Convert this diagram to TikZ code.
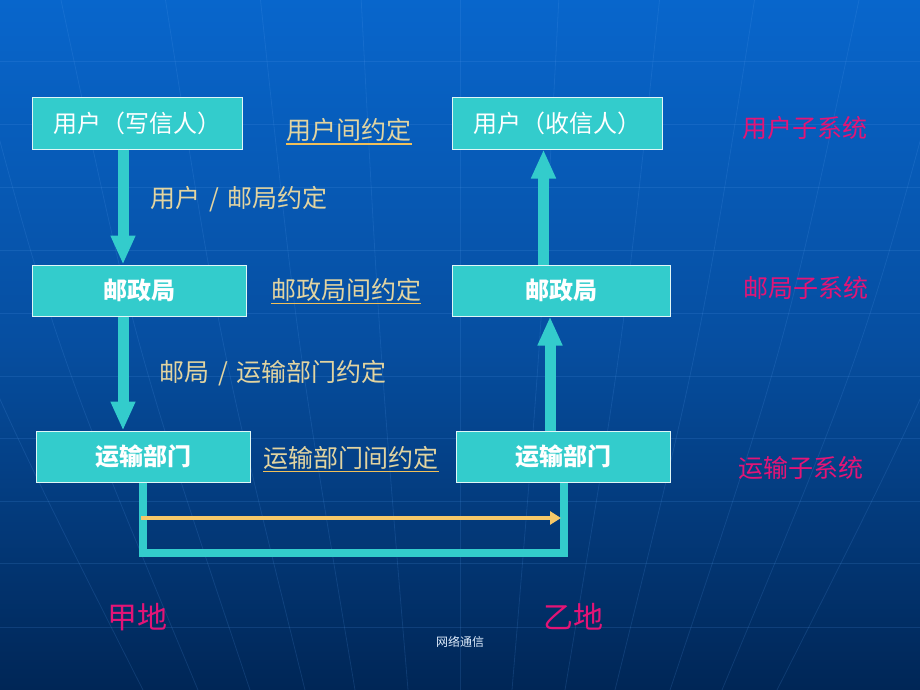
\documentclass[tikz,border=0pt]{standalone}
\usepackage{fontspec}
\setmainfont{Noto Sans CJK SC}
\usetikzlibrary{arrows.meta,calc}
\definecolor{bgtop}{RGB}{8,102,204}
\definecolor{bgmid}{RGB}{6,78,160}
\definecolor{bgbot}{RGB}{0,38,86}
\definecolor{boxteal}{RGB}{51,204,204}
\definecolor{tan}{RGB}{226,212,160}
\definecolor{uline}{RGB}{240,192,90}
\definecolor{mag}{RGB}{228,20,118}
\definecolor{yarrow}{RGB}{246,200,104}
\definecolor{grid}{RGB}{90,160,240}
\tikzset{
  box/.style={draw=white!85!boxteal, line width=1pt, fill=boxteal, text=white,
    minimum height=51pt, inner sep=0pt, font=\fontsize{24}{24}\selectfont},
  boxb/.style={box, font=\fontsize{24}{24}\selectfont\bfseries},
  note/.style={text=tan, inner sep=0pt, font=\fontsize{25}{25}\selectfont},
  sys/.style={text=mag, inner sep=0pt, font=\fontsize{25}{25}\selectfont},
  place/.style={text=mag, inner sep=0pt, font=\fontsize{30}{30}\selectfont},
  blockarrow/.style={draw=boxteal, line width=11pt,
    -{Triangle[width=23pt,length=29pt]}, color=boxteal},
  ulinestyle/.style={draw=uline, line width=1.3pt},
  gridline/.style={draw=grid, line width=0.8pt, opacity=0.16}
}
\begin{document}
\begin{tikzpicture}[x=1pt,y=-1pt]
% background
\shade[top color=bgtop, bottom color=bgbot, middle color=bgmid] (0,0) rectangle (920,690);
\useasboundingbox (0,0) rectangle (920,690);
% globe grid
\foreach \yy in {61,124,187,250,313,376,438,501,563,627}
  \draw[gridline] (0,\yy) -- (920,\yy);
\foreach \d in {-317,-262,-210,-155,-105,-52,0,52,105,155,210,262,317}
  \draw[gridline] ({460+1.9*\d},0) .. controls ({460+1.55*\d},345) .. ({460+\d},690);

% boxes
\node[box, minimum width=210pt] (uw) at (137,123.5) {用户（写信人）};
\node[box, minimum width=210pt] (ur) at (557,123.5) {用户（收信人）};
\node[boxb, minimum width=214pt] (pl) at (139,290.5) {邮政局};
\node[boxb, minimum width=218pt] (pr) at (561,290.5) {邮政局};
\node[boxb, minimum width=214pt] (tl) at (143,456.5) {运输部门};
\node[boxb, minimum width=214pt] (tr) at (563,456.5) {运输部门};

% x positions of connectors
\coordinate (xa) at (123,0);
\coordinate (xb) at (543.5,0);
\coordinate (xc) at (550,0);
\coordinate (xl) at (143,0);
\coordinate (xr) at (563.5,0);
\coordinate (yb) at (0,553);

% block arrows
\draw[blockarrow] (uw.south -| xa) -- (pl.north -| xa);
\draw[blockarrow] (pl.south -| xa) -- (tl.north -| xa);
\draw[blockarrow] (pr.north -| xb) -- (ur.south -| xb);
\draw[blockarrow] (tr.north -| xc) -- (pr.south -| xc);

% transport loop
\draw[boxteal, line width=8pt, line join=miter]
  (tl.south -| xl) -- (xl |- yb) -- (xr |- yb) -- (tr.south -| xr);
\coordinate (ys) at (141,518);
\coordinate (ye) at (561,518);
\draw[yarrow, line width=3.2pt, -{Triangle[width=13pt,length=11pt]}] (ys) -- (ye);

% notes
\node[note] (n1) at (349,130) {用户间约定};
\draw[ulinestyle] ($(n1.south west)+(0,2)$) -- ($(n1.south east)+(0,2)$);
\node[note] (n2) at (239,199) {用户\hspace{9pt}/\hspace{9pt}邮局约定};
\node[note] (n3) at (346,290) {邮政局间约定};
\draw[ulinestyle] ($(n3.south west)+(0,2)$) -- ($(n3.south east)+(0,2)$);
\node[note] (n4) at (273,373) {邮局\hspace{9pt}/\hspace{9pt}运输部门约定};
\node[note] (n5) at (351,458) {运输部门间约定};
\draw[ulinestyle] ($(n5.south west)+(0,2)$) -- ($(n5.south east)+(0,2)$);

% subsystem labels
\node[sys] (s1) at (805,128) {用户子系统};
\node[sys] (s2) at (806,288) {邮局子系统};
\node[sys] (s3) at (801,468) {运输子系统};

% places
\node[place] (pa) at (137,617) {甲地};
\node[place] (pb) at (573,617) {乙地};

% footer
\node[text=white!80!grid, inner sep=0pt, font=\fontsize{12}{12}\selectfont] (ft) at (460,642) {网络通信};
\end{tikzpicture}
\end{document}
